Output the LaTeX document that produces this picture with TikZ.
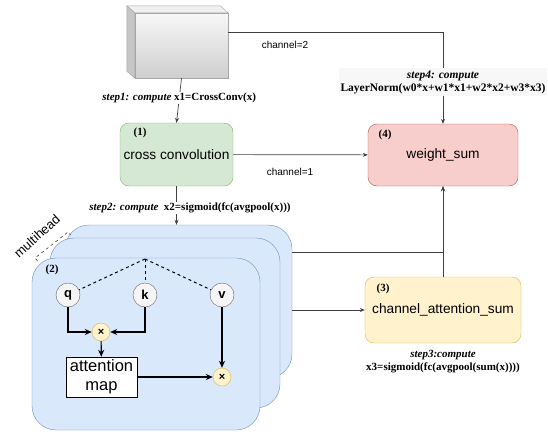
\documentclass[tikz,border=0pt]{standalone}
\usepackage{fontspec}
\setmainfont{Liberation Sans}
\newfontfamily\timesf{Liberation Serif}
\usepackage{tikz}
\usetikzlibrary{arrows.meta, positioning, calc}
\definecolor{gfill}{HTML}{D5E8D4}
\definecolor{gdraw}{HTML}{82B366}
\definecolor{pfill}{HTML}{F8CECC}
\definecolor{pdraw}{HTML}{B85450}
\definecolor{yfill}{HTML}{FFF2CC}
\definecolor{ydraw}{HTML}{D6B656}
\definecolor{bfill}{HTML}{DAE8FC}
\definecolor{bdraw}{HTML}{6C8EBF}
\definecolor{nfill}{HTML}{F5F5F5}
\definecolor{ndraw}{HTML}{666666}

\begin{document}
\begin{tikzpicture}[
    x=1pt, y=-1pt,
    stage/.style={
      rectangle, rounded corners=9pt, draw=#1draw, fill=#1fill,
      font=\fontsize{13.7}{16}\selectfont
    },
    head/.style={
      rectangle, rounded corners=24pt, draw=bdraw, fill=bfill
    },
    tag/.style={font=\timesf\bfseries\fontsize{11}{13}\selectfont},
    steplbl/.style={font=\timesf\bfseries\fontsize{11}{13}\selectfont,
      align=center, fill=white, text=black, inner sep=1pt},
    chn/.style={font=\fontsize{10}{12}\selectfont},
    tok/.style={circle, draw=ndraw, fill=nfill, minimum size=24pt,
      inner sep=0pt, font=\bfseries\fontsize{13}{15}\selectfont},
    mult/.style={circle, draw=ydraw, fill=yfill, minimum size=18pt,
      inner sep=0pt, font=\bfseries\fontsize{11}{13}\selectfont},
    link/.style={-{Stealth[length=5pt,width=4pt]}, black!75, line width=0.7pt},
    flow/.style={-{Stealth[length=7pt,width=6pt]}, black, line width=1.2pt}
  ]
  \useasboundingbox (0,0) rectangle (548,434);

  %% ===== input cube =====
  \node[rectangle, draw=gray!70, top color=gray!6, bottom color=gray!38,
        minimum width=93pt, minimum height=65pt] (cube) at (181.5,45.5) {};
  \filldraw[draw=gray!70, fill=gray!12]
    (cube.north west) -- ++(-8,-7) -- ([shift={(-8,-7)}]cube.north east)
    -- (cube.north east) -- cycle;
  \filldraw[draw=gray!70, fill=gray!45]
    (cube.north west) -- ++(-8,-7) -- ([shift={(-8,-7)}]cube.south west)
    -- (cube.south west) -- cycle;

  %% ===== main stages =====
  \node[stage=g, minimum width=113pt, minimum height=63pt] (conv) at (176.5,154.5) {cross convolution};
  \node[tag] at (140,133) {(1)};

  \node[stage=p, minimum width=150pt, minimum height=62pt] (wsum) at (443,155) {weight\_sum};
  \node[tag] at (385,135) {(4)};

  \node[stage=y, minimum width=156pt, minimum height=66pt] (casum) at (443,310) {channel\_attention\_sum};
  \node[tag] at (383,289) {(3)};

  %% ===== multihead attention stack =====
  \node[head, minimum width=227pt, minimum height=153pt] (headback) at (178.5,301.5) {};
  \node[head, minimum width=230pt, minimum height=170pt] (headmid)  at (165,323) {};
  \node[head, minimum width=228pt, minimum height=172pt] (head)     at (146,344) {};
  \node[tag] at (52,270) {(2)};

  \node[rotate=42, font=\fontsize{13}{15}\selectfont, inner sep=1pt] (mhlbl) at (37,236) {multihead};
  \draw[dashed, black] (37.5,261) -- (35,258) -- (68,232) -- (70.5,235);

  \coordinate (split) at (145,259);
  \node[tok] (q) at (68,295) {q};
  \node[tok] (k) at (145,295) {k};
  \node[tok] (v) at (222,295) {v};
  \node[mult] (m1) at (101,332) {×};
  \node[mult] (m2) at (222,377) {×};
  \node[rectangle, draw=black, fill=white, minimum width=71pt, minimum height=40pt,
        inner sep=0pt, align=center, font=\fontsize{16.5}{19}\selectfont]
    (attn) at (101.5,377) {attention\\map};

  \draw[dashed, line width=1pt] (split) -- (q);
  \draw[dashed, line width=1pt] (split) -- (k);
  \draw[dashed, line width=1pt] (split) -- (v);
  \draw[flow] (q) |- (m1);
  \draw[flow] (k) |- (m1);
  \draw[flow] (m1) -- (attn);
  \draw[flow] (attn) -- (m2);
  \draw[flow] (v) -- (m2);

  %% ===== connectors =====
  \draw[link] (cube.south) -- (conv.north)
    node[steplbl, pos=0.45] {\textit{step1: compute} x1=CrossConv(x)};
  \draw[link] ([yshift=13.5pt]cube.east) -| (wsum.north);
  \node[chn] at (285,45) {channel=2};
  \node[steplbl, fill=gray!6, minimum width=206pt, inner sep=2pt,
        font=\timesf\bfseries\fontsize{11.5}{13}\selectfont] at (443,82)
    {\textit{step4: compute}\\LayerNorm(w0*x+w1*x1+w2*x2+w3*x3)};

  \draw[link] (conv) -- (wsum);
  \node[chn] at (290,172) {channel=1};

  \draw[link] (conv.south) -- (conv.south |- headback.north);
  \node[steplbl] at (190,208) {\textit{step2: compute}\enspace x2=sigmoid(fc(avgpool(x)))};

  \draw[link] ([yshift=49.5pt]headback.east) -| (wsum.south);
  \draw[link] (headback.east |- casum.west) -- (casum.west);
  \draw[link] (casum) -- (wsum);
  \node[steplbl, fill=none] at (443,362)
    {\textit{step3:compute}\\x3=sigmoid(fc(avgpool(sum(x))))};
\end{tikzpicture}
\end{document}
